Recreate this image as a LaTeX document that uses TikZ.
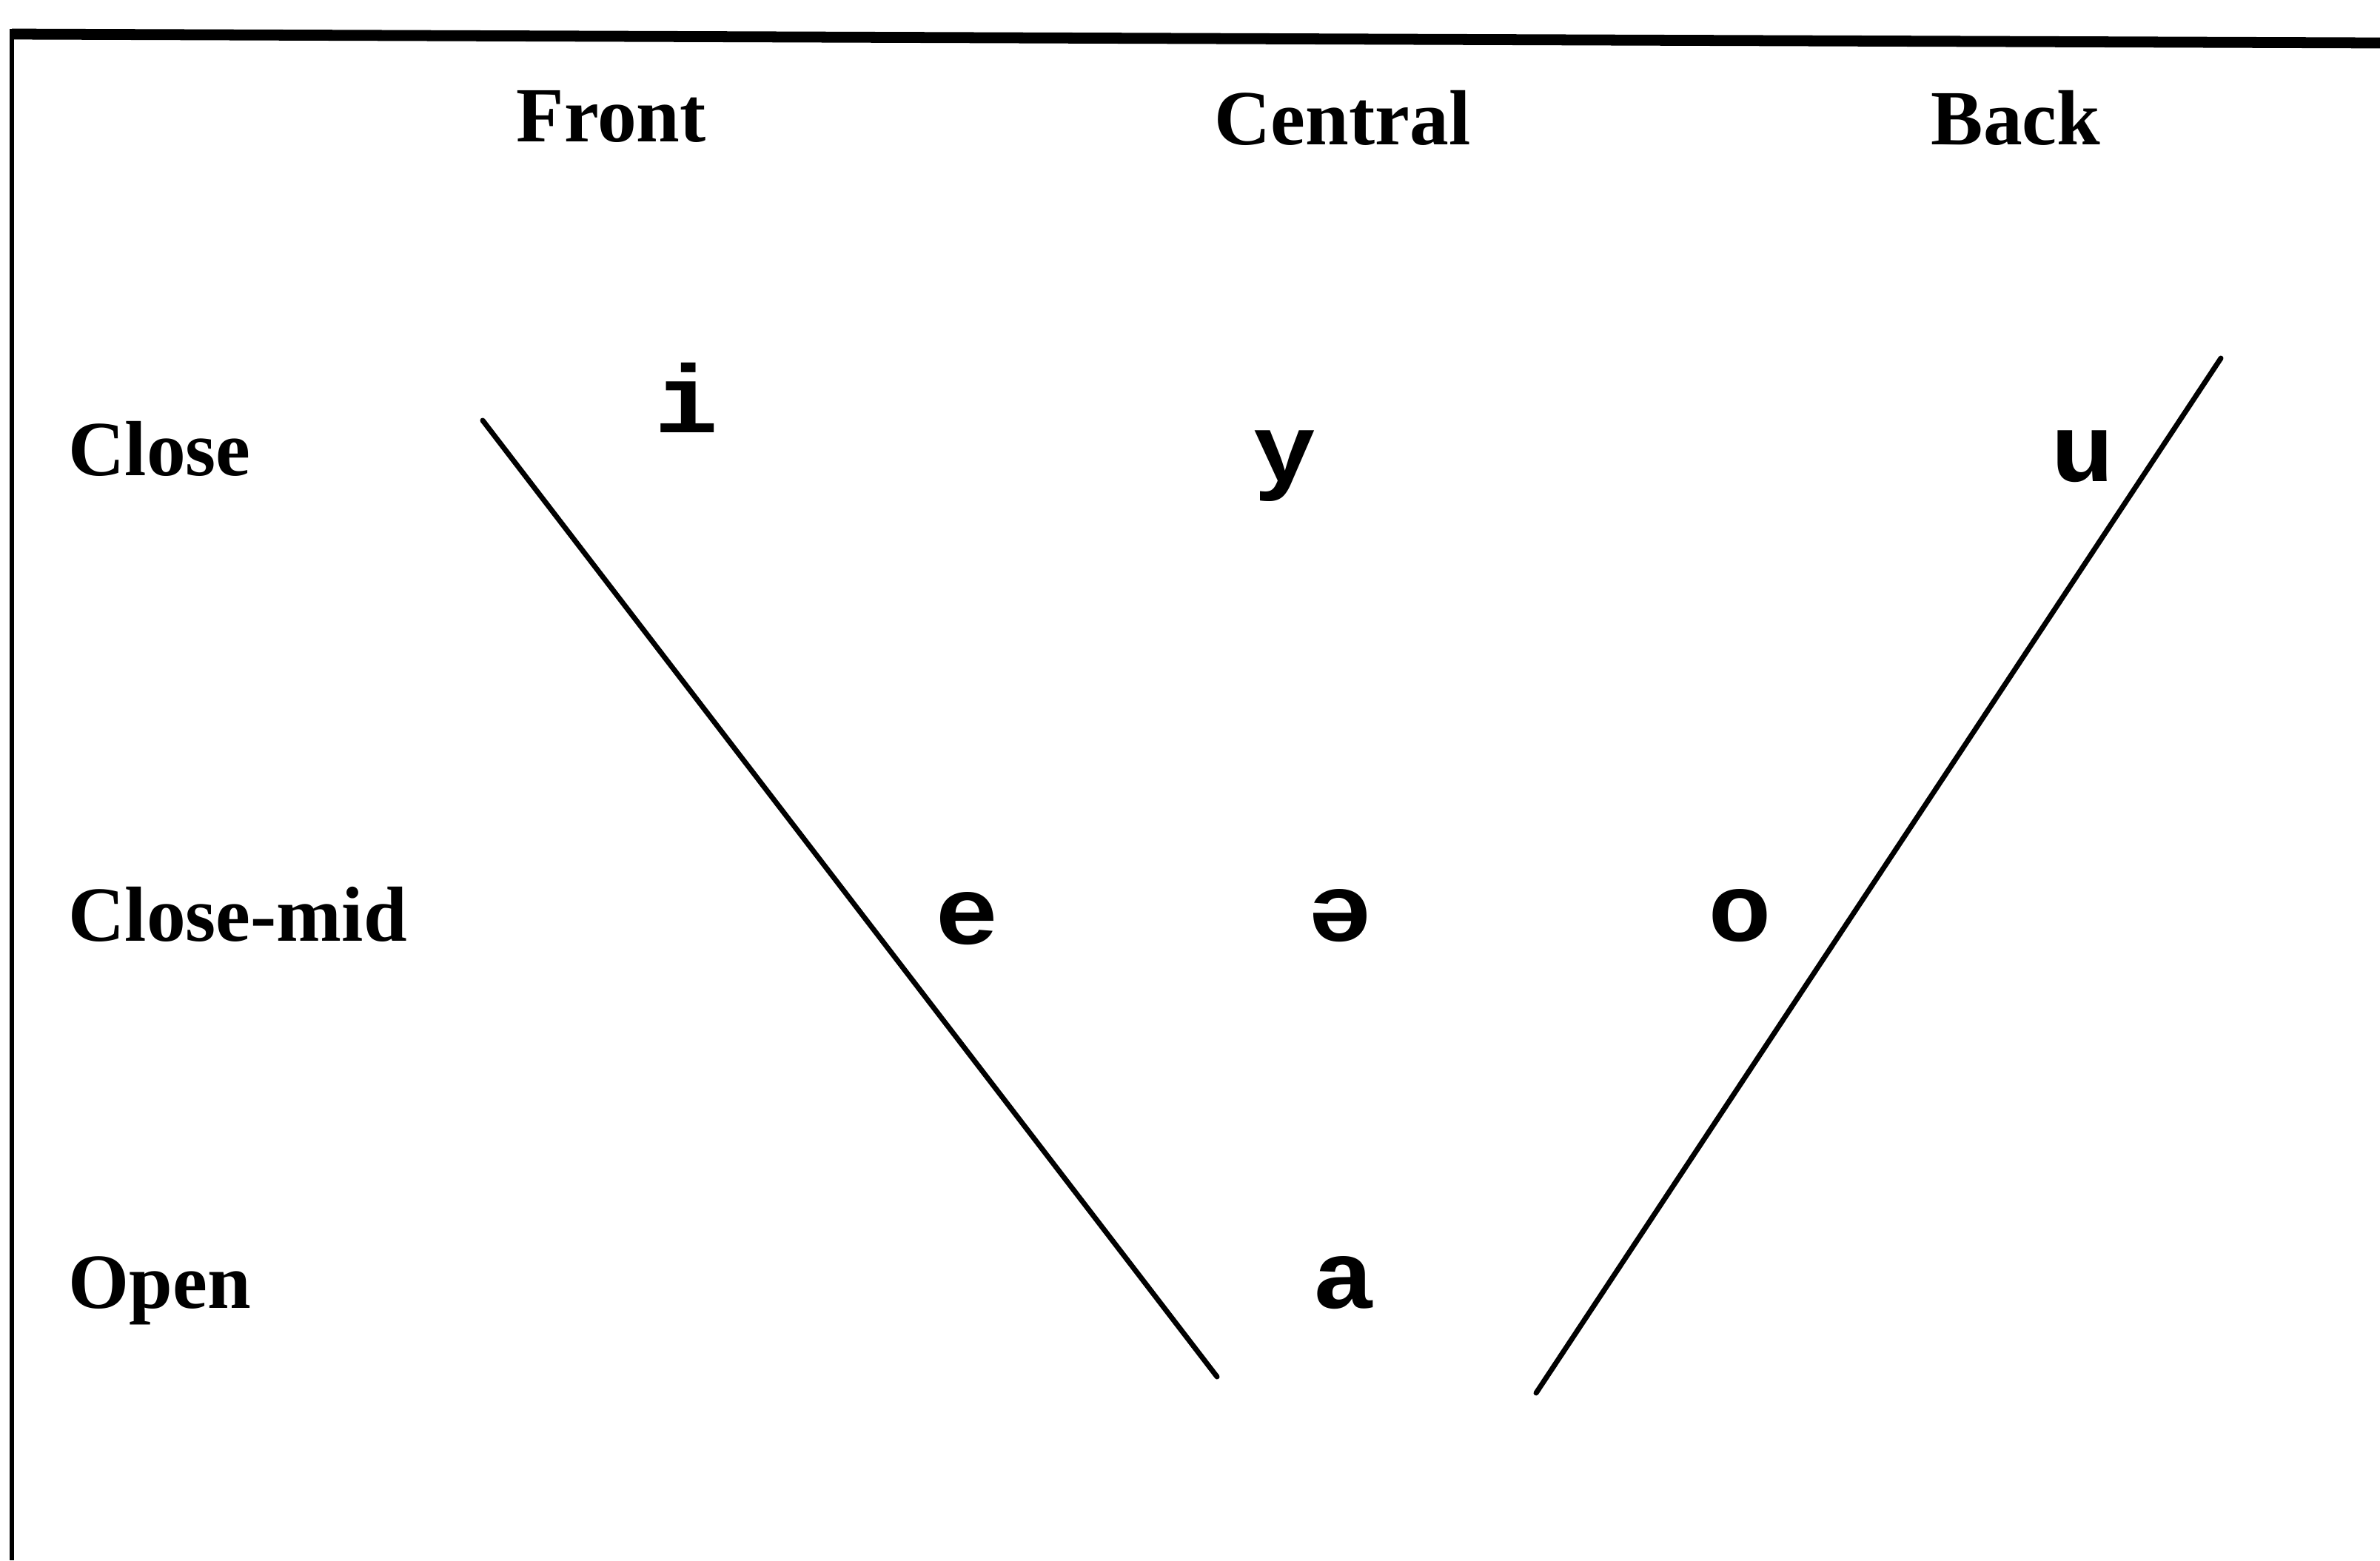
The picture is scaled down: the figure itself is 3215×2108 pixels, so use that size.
\documentclass[tikz,border=0pt]{standalone}
\usepackage{fontspec}
\setmainfont{Liberation Serif}
\newfontfamily\ipafont[FakeStretch=1.1]{Liberation Mono}

\begin{document}
\begin{tikzpicture}[
    x=0.01cm, y=-0.01cm,
    heading/.style={font=\fontsize{30}{36}\selectfont\bfseries,
                    inner sep=0pt, anchor=base west},
    vowel/.style={font=\ipafont\bfseries\fontsize{37}{44}\selectfont,
                  inner sep=0pt, anchor=base},
    side/.style={black, line width=2pt, line cap=round}
]
\useasboundingbox (0,0) rectangle (3215,2108);

% Frame (top and left edges only)
\coordinate (tl) at (16,46);
\coordinate (tr) at (3215,58);
\coordinate (bl) at (16,2108);
\draw[line width=4.2pt] (tl) -- (tr);
\draw[line width=1.7pt] ([yshift=2pt]tl) -- (bl);

% Top row: columns
\node[heading] (front) at (697,191) {Front};
\node[heading] (central) at (1640,195) {Central};
\node[heading] (back) at (2608,195) {Back};

% Left column: heights
\node[heading] (close) at (92,642) {Close};
\node[heading] (closemid) at (92,1271) {Close-mid};
\node[heading] (open) at (92,1767) {Open};

% Vowels
\node[vowel] (vi) at (927,584) {i};
\node[vowel] (vy) at (1735,650) {y};
\node[vowel] (vu) at (2813,650) {u};
\node[vowel] (ve) at (1306,1275) {e};
\node[vowel] (vschwa) at (1810,1271) {ə};
\node[vowel] (vo) at (2350,1271) {o};
\node[vowel] (va) at (1815,1767) {a};

% The two sides of the V
\coordinate (fronttop) at (652,568);
\coordinate (frontbot) at (1644,1860);
\coordinate (backtop) at (3000,484);
\coordinate (backbot) at (2075,1882);
\draw[side] (fronttop) -- (frontbot);
\draw[side] (backtop) -- (backbot);

\end{tikzpicture}
\end{document}
